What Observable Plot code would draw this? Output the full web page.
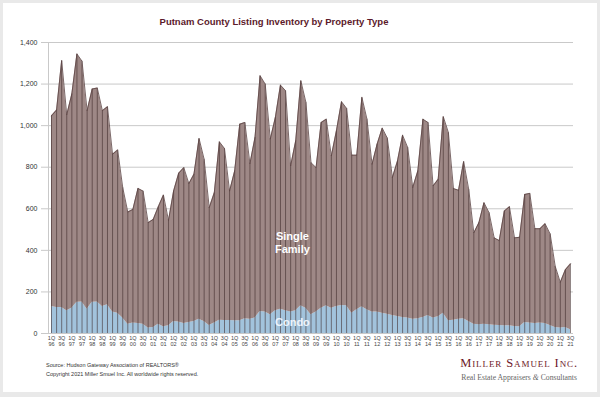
<!DOCTYPE html>
<html><head><meta charset="utf-8">
<script src="https://cdn.jsdelivr.net/npm/d3@7"></script>
<script src="https://cdn.jsdelivr.net/npm/@observablehq/plot@0.6"></script>
<style>
html,body{margin:0;padding:0;background:#e9e9e9;width:600px;height:397px;overflow:hidden;font-family:"Liberation Sans",Arial,sans-serif}
#card{position:absolute;left:3px;top:3px;width:594px;height:389px;background:#fff}
#title{position:absolute;left:0;top:16px;width:548px;text-align:center;font-weight:bold;font-size:9.5px;color:#5c1a2b;white-space:nowrap}
#chart{position:absolute;left:0;top:0}
.foot{position:absolute;left:46px;font-size:5.5px;color:#333;white-space:nowrap}
#logo1{position:absolute;right:22px;top:357px;font-family:"Liberation Serif","Times New Roman",serif;font-variant:small-caps;font-size:12.5px;letter-spacing:0.9px;color:#6e1828;white-space:nowrap;line-height:12px}
#logo2{position:absolute;right:23px;top:372.5px;font-family:"Liberation Serif","Times New Roman",serif;font-size:7.7px;color:#666;white-space:nowrap;line-height:9px}
</style></head>
<body>
<div id="card"></div>
<div id="chart"></div>
<div id="title">Putnam County Listing Inventory by Property Type</div>
<div class="foot" style="top:362px">Source: Hudson Gateway Association of REALTORS®</div>
<div class="foot" style="top:371px">Copyright 2021 Miller Smuel Inc. All worldwide rights reserved.</div>
<div id="logo1">Miller Samuel Inc.</div>
<div id="logo2">Real Estate Appraisers <i>&amp;</i> Consultants</div>
<script>
const startYear = 1996;
const condo = [130,125,125,109,122,150,151,117,150,151,130,138,
103,98,74,45,50,48,45,26,29,45,32,37,58,55,48,53,58,69,58,39,50,64,63,63,
61,61,71,69,74,106,103,90,109,117,109,103,109,134,122,90,103,122,134,122,
130,135,134,98,114,129,114,103,103,98,93,87,82,77,74,69,71,77,87,74,
80,98,61,64,69,71,58,45,42,45,42,40,39,37,37,34,32,53,50,48,50,48,39,29,26,29,18];
const singleFamily = [917,950,1188,943,1030,1195,1159,955,1026,1030,942,953,
759,785,628,539,547,650,640,507,520,565,634,507,627,716,750,668,708,869,780,566,627,858,827,622,
721,946,944,748,869,1134,1097,845,930,1078,1059,703,818,1082,990,732,695,893,897,732,
845,980,949,760,744,1007,917,711,808,890,847,663,748,877,821,633,711,954,928,636,
662,945,906,633,620,756,635,439,491,584,539,420,408,552,573,426,431,616,624,456,454,480,440,294,220,278,317];
const yTicks = [0,200,400,600,800,1000,1200,1400];
const seriesLabels = [
  {label:"Single\nFamily", q:47.35, v:439, color:"#ffffff"},
  {label:"Condo", q:47.35, v:58, color:"#eef4fa"}
];

const rows = condo.map((c,i)=>{
  const yr = startYear + Math.floor(i/4);
  return {i, quarter:(i%4+1)+"Q", yy:String(yr%100).padStart(2,"0"), condo:c, sf:singleFamily[i], total:c+singleFamily[i]};
});
const xTicks = rows.filter(d=>d.i%2===0).map(d=>d.i);

const chart = Plot.plot({
  width:600, height:352,
  marginTop:42, marginBottom:19, marginLeft:48, marginRight:27,
  style:{fontFamily:"'Liberation Sans', Arial, sans-serif", background:"transparent", overflow:"visible"},
  x:{type:"linear", domain:[0,rows.length-1], insetLeft:3, insetRight:3},
  y:{domain:[0,1400]},
  marks:[
    Plot.gridY(yTicks, {stroke:"#c9c9c9", strokeOpacity:1, strokeWidth:1}),
    Plot.areaY(rows, {x:"i", y1:0, y2:"condo", fill:"#a2c3dc"}),
    Plot.areaY(rows, {x:"i", y1:"condo", y2:"total", fill:"#9e8886"}),
    Plot.ruleX(rows, {x:"i", y1:0, y2:"total", stroke:"#3a2626", strokeOpacity:0.7, strokeWidth:0.8}),
    Plot.lineY(rows, {x:"i", y:"total", stroke:"#5a4343", strokeWidth:0.8}),
    Plot.text(seriesLabels, {x:"q", y:"v", text:"label", fill:"color", fontWeight:"bold", fontSize:11, lineHeight:1.2}),
    Plot.frame({anchor:"left", stroke:"#c9c9c9"}),
    Plot.axisY(yTicks, {tickSize:7, tickPadding:4, fontSize:7, stroke:"#c9c9c9", color:"#333", tickFormat:d3.format(","), label:null}),
    Plot.axisX(xTicks, {tickSize:0, tickPadding:3, fontSize:5.5, lineHeight:1, color:"#444",
      tickFormat:i=>rows[i].quarter+"\n"+rows[i].yy, label:null})
  ]
});
document.getElementById("chart").appendChild(chart);
</script>
</body></html>
